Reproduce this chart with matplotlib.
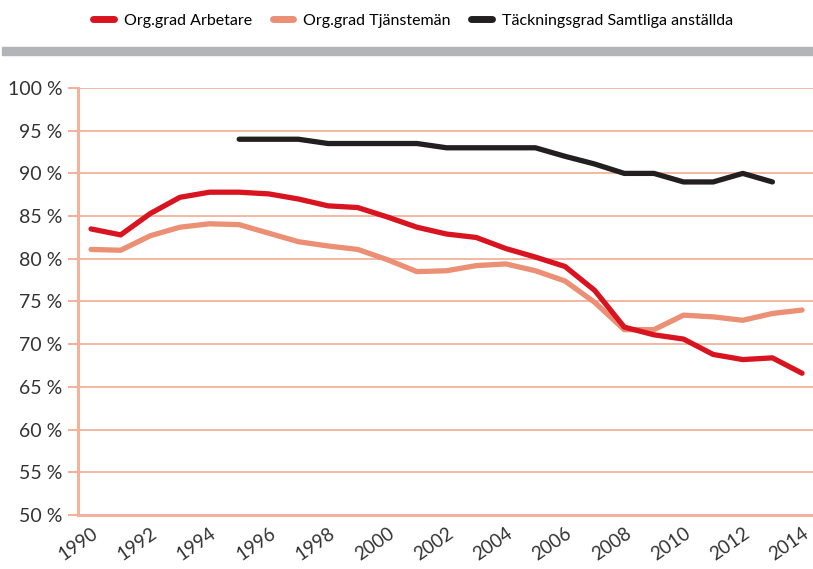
import matplotlib
matplotlib.use("Agg")
import matplotlib.pyplot as plt
from matplotlib.lines import Line2D

years = list(range(1990, 2015))
arbetare = [83.5, 82.8, 85.3, 87.2, 87.8, 87.8, 87.6, 87.0, 86.2, 86.0, 84.9, 83.7, 82.9,
            82.5, 81.2, 80.2, 79.1, 76.3, 72.0, 71.1, 70.6, 68.8, 68.2, 68.4, 66.6]
tjansteman = [81.1, 81.0, 82.7, 83.7, 84.1, 84.0, 83.0, 82.0, 81.5, 81.1, 79.9, 78.5, 78.6,
              79.2, 79.4, 78.6, 77.4, 74.9, 71.7, 71.7, 73.4, 73.2, 72.8, 73.6, 74.0]
years_tg = list(range(1995, 2014))
tackning = [94.0, 94.0, 94.0, 93.5, 93.5, 93.5, 93.5, 93.0, 93.0, 93.0, 93.0, 92.0, 91.1,
            90.0, 90.0, 89.0, 89.0, 90.0, 89.0]

labels = ["Org.grad Arbetare", "Org.grad Tjänstemän", "Täckningsgrad Samtliga anställda"]
colors = ["#d7141f", "#eb8f75", "#231f20"]
grid_col = "#f2b29c"

plt.rcParams['font.family'] = ['Lato', 'DejaVu Sans']

fig = plt.figure(figsize=(8.13, 5.69), dpi=100)
ax = fig.add_axes([78 / 813, 1 - 515 / 569, 1 - 78 / 813, (515 - 88) / 569])

ax.plot(years, arbetare, color=colors[0], lw=3.8, solid_capstyle='round', zorder=3)
ax.plot(years, tjansteman, color=colors[1], lw=3.8, solid_capstyle='round', zorder=2)
ax.plot(years_tg, tackning, color=colors[2], lw=3.8, solid_capstyle='round', zorder=3)

ax.set_ylim(50, 100)
ax.set_xlim(1989.56, 2014.37)
yt = list(range(50, 101, 5))
ax.set_yticks(yt)
ax.set_yticklabels(["%d %%" % v for v in yt], fontsize=14, color="#333333")
ax.set_xticks(list(range(1990, 2015, 2)))
ax.set_xticklabels([str(y) for y in range(1990, 2015, 2)], fontsize=13.5, color="#333333",
                   rotation=35, ha='right', va='top', rotation_mode='anchor')
ax.tick_params(axis='y', length=7, width=1.5, color=grid_col, pad=4)
ax.tick_params(axis='x', length=0, pad=7)
ax.grid(axis='y', color=grid_col, lw=1.3, zorder=0)
for s in ['top', 'right']:
    ax.spines[s].set_visible(False)
for s in ['left', 'bottom']:
    ax.spines[s].set_color(grid_col)
    ax.spines[s].set_linewidth(2.2)

handles = [Line2D([], [], color=c, lw=5, solid_capstyle='round') for c in colors]
fig.legend(handles, labels, loc='center', bbox_to_anchor=(413 / 813, 1 - 21 / 569), ncol=3,
           frameon=False, fontsize=11.5, handlelength=1.3, handletextpad=0.6, columnspacing=1.3)

fig.patches.append(plt.Rectangle((0.003, 1 - 55 / 569), 1, 8 / 569, transform=fig.transFigure,
                                 color="#b3b4b7", figure=fig))

fig.savefig("out.png", dpi=100)
